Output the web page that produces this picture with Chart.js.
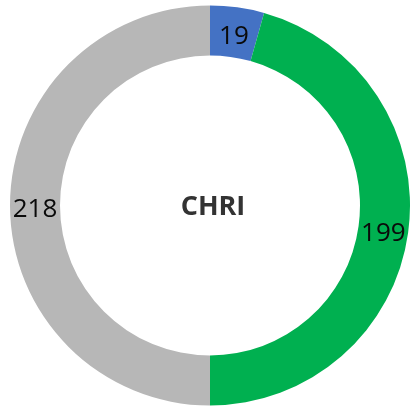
<!DOCTYPE html>
<html>
<head>
<meta charset="utf-8">
<script src="https://cdn.jsdelivr.net/npm/chart.js@4/dist/chart.umd.min.js"></script>
<style>
  html, body { margin: 0; padding: 0; background: #fff; }
  #wrap { width: 410px; height: 412px; }
</style>
</head>
<body>
<div id="wrap"><canvas id="ringChart"></canvas></div>
<script>
const labels = ["Blue", "Green", "Gray"];
const values = [19, 199, 218];
const sliceColors = ["#4472C4", "#00B050", "#B7B7B7"];
const centerTitle = "CHRI";

// draws the value on each slice and the title in the hole
const ringText = {
  id: "ringText",
  afterDatasetsDraw(chart) {
    const ctx = chart.ctx;
    const meta = chart.getDatasetMeta(0);
    ctx.save();
    ctx.textAlign = "center";
    ctx.textBaseline = "middle";
    ctx.fillStyle = "#0a0a0a";
    ctx.font = "26px 'Open Sans'";
    meta.data.forEach((arc, i) => {
      const p = arc.getCenterPoint();
      ctx.fillText(String(values[i]), p.x, p.y + 4);
    });
    const first = meta.data[0];
    ctx.fillStyle = "#333";
    ctx.font = "bold 27px 'Open Sans'";
    ctx.fillText(centerTitle, first.x + 3, first.y + 2);
    ctx.restore();
  }
};

new Chart(document.getElementById("ringChart"), {
  type: "doughnut",
  data: {
    labels: labels,
    datasets: [{
      data: values,
      backgroundColor: sliceColors,
      borderWidth: 0
    }]
  },
  options: {
    responsive: true,
    maintainAspectRatio: false,
    animation: false,
    cutout: "75%",
    layout: { padding: { left: 10, top: 5, right: 0, bottom: 6 } },
    plugins: {
      legend: { display: false },
      tooltip: { enabled: false }
    }
  },
  plugins: [ringText]
});
</script>
</body>
</html>
